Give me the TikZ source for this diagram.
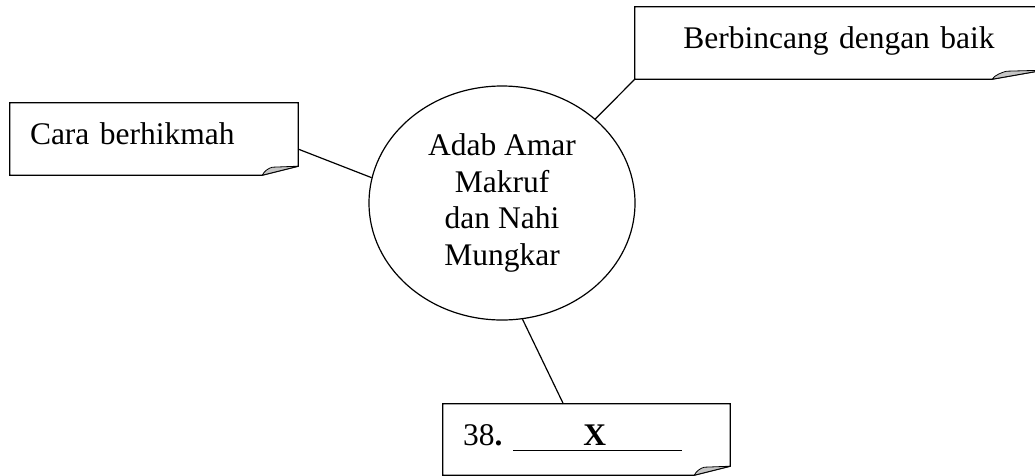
\documentclass[tikz,border=0pt]{standalone}
\usepackage{fontspec}
\setmainfont{Liberation Serif}
\usetikzlibrary{shapes.geometric,positioning}

\begin{document}
\begin{tikzpicture}[x=1pt,y=-1pt,
    words/.style={font=\fontsize{31.5}{36.7}\selectfont},
    note/.style={words,minimum height=72pt,inner xsep=20pt,inner ysep=0pt,
      text height=22pt,text depth=11pt},
    fold/.style={fill=gray!45,draw=black,line width=0.8pt,line join=round},
    link/.style={draw,line width=1.2pt}]
                % picture size, in pixels of the page
                \clip (0,0) rectangle (1035,475);

                % the topic in the middle
                \node[words,ellipse,draw,line width=1.2pt,minimum width=266pt,minimum height=234pt,
                  inner sep=0pt,align=center] (adab) at (502,203) {Adab Amar\\Makruf\\dan Nahi\\Mungkar};

                % notes round the topic
                \node[note,text width=248pt,align=left] (cara) at (154,139) {Cara berhikmah};
                \node[note,text width=368pt,align=center] (bincang) at (839,43) {Berbincang dengan baik};
                \node[note,text width=247pt,align=left,minimum height=71pt] (soal) at (586.5,439.5)
                  {38\textbf{.}\hspace{11pt}\rlap{\rule[-6pt]{169pt}{1.4pt}}\hspace{70pt}\textbf{X}};

                % outline of each note, with its folded corner
                \foreach \n/\dx in {cara/36,bincang/51,soal/36} {
                  \draw[line width=1.2pt] (\n.north west) -- (\n.north east) -- ([yshift=9pt]\n.south east)
                    -- ([xshift=-\dx pt]\n.south east) -- (\n.south west) -- cycle;
                  \filldraw[fold] ([xshift=-\dx pt]\n.south east) .. controls +(2pt,4pt) and +(-4pt,-1pt)
                    .. ([xshift={-0.72*\dx*1pt},yshift=8pt]\n.south east) -- ([yshift=9pt]\n.south east) -- cycle;
                }

                % lines from the notes to the topic
                \draw[link] (cara.-4.8) -- (adab.169.7);
                \draw[link] (bincang.south west) -- (adab.42.4);
                \draw[link] (soal.123) -- (adab.-80.9);
            \end{tikzpicture}
\end{document}
